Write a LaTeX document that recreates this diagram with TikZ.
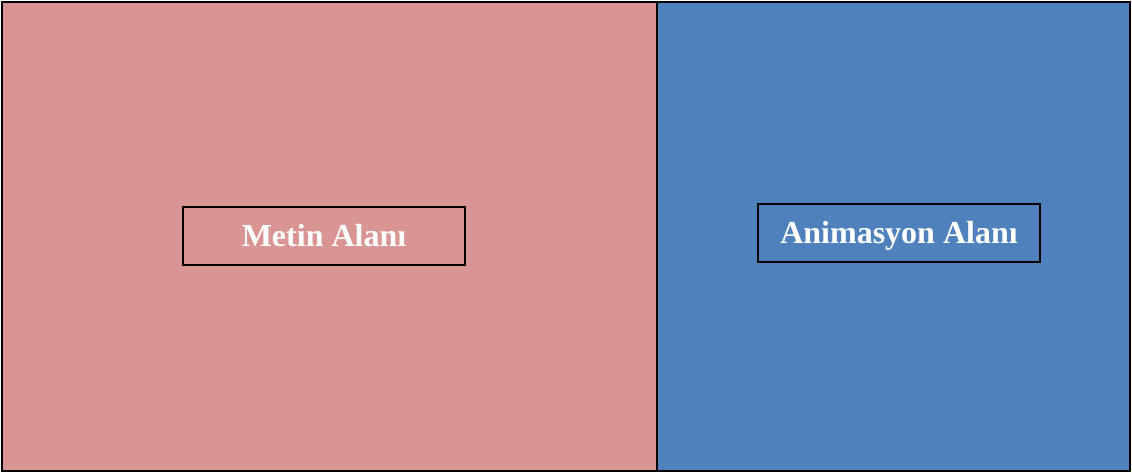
\documentclass[tikz,border=0pt]{standalone}
\usepackage{fontspec}
\setmainfont{Liberation Serif}
\definecolor{pinkarea}{HTML}{D99594}
\definecolor{bluearea}{HTML}{4F81BD}
\tikzset{
  area/.style={draw=black, line width=2.4pt},
  label box/.style={draw=black, line width=1.8pt, minimum width=282pt, minimum height=58pt, inner sep=0pt,
    text height=21pt, text depth=0pt,
    text=white, font=\fontsize{32}{36}\selectfont\bfseries},
}
\begin{document}
\begin{tikzpicture}[x=1pt,y=-1pt]
\useasboundingbox (0,0) rectangle (1132,473);
\filldraw[area, fill=pinkarea] (2,2) rectangle (657,471);
\filldraw[area, fill=bluearea] (657,2) rectangle (1130,471);
\node[label box] (metin) at (324,236) {Metin Alanı};
\node[label box] (anim) at (899,233) {Animasyon Alanı};
\end{tikzpicture}
\end{document}
